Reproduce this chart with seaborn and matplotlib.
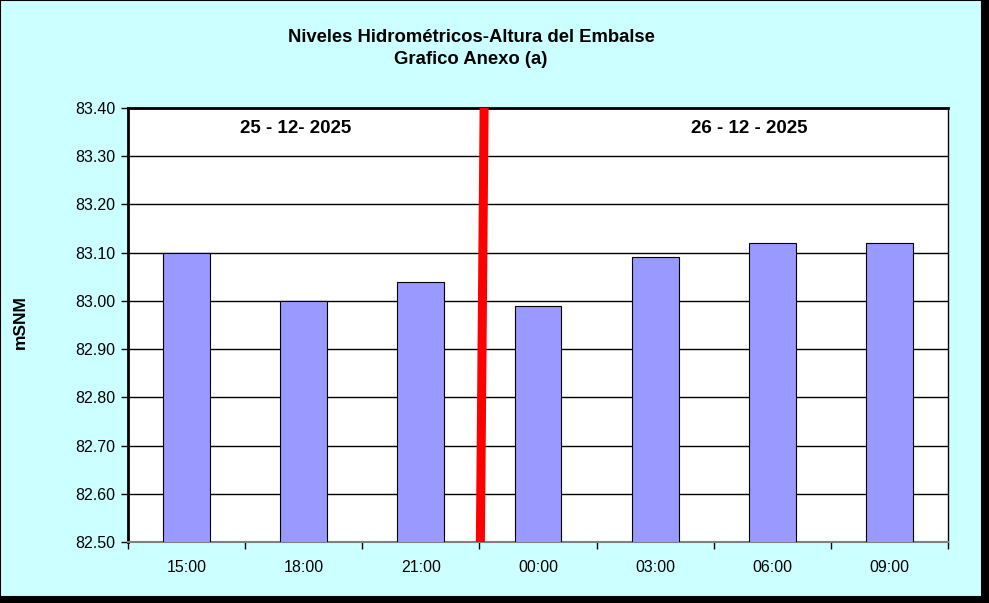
import matplotlib
matplotlib.use("Agg")
import matplotlib.pyplot as plt
import seaborn as sns
import pandas as pd
from matplotlib.patches import Rectangle
from matplotlib.ticker import FixedLocator, MultipleLocator

hours = ["15:00", "18:00", "21:00", "00:00", "03:00", "06:00", "09:00"]
levels = [83.10, 83.00, 83.04, 82.99, 83.09, 83.12, 83.12]
day_labels = ["25 - 12- 2025", "26 - 12 - 2025"]
separator_after = 2  # red line between 21:00 and 00:00

sns.set_theme(style="white")
plt.rcParams['font.family'] = ['Liberation Sans', 'DejaVu Sans']

fig = plt.figure(figsize=(9.89, 6.03), dpi=100)
W, H = 989, 603
fig.patch.set_facecolor('black')
# cyan background panel with dark shadow at right/bottom
fig.patches.append(Rectangle((0, 6/H), 982/W, 1 - 6/H, transform=fig.transFigure,
                             facecolor='#CCFFFF', edgecolor='black', linewidth=1.5, zorder=-10))

ax = fig.add_axes([128/W, 61/H, 820/W, 434/H])
df = pd.DataFrame({"hora": hours, "nivel": levels})
sns.barplot(data=df, x="hora", y="nivel", color="#9999FF", saturation=1,
            edgecolor="black", linewidth=0.8, width=0.4, ax=ax, zorder=3)

ax.set_facecolor('white')
ax.set_ylim(82.5, 83.4)
ax.set_xlim(-0.5, len(hours) - 0.5)
ax.yaxis.set_major_locator(MultipleLocator(0.1))
ax.yaxis.set_major_formatter(matplotlib.ticker.FormatStrFormatter('%.2f'))
ax.grid(axis='y', color='black', linewidth=1, zorder=0)
ax.set_axisbelow(True)

ax.tick_params(axis='y', which='major', left=True, length=5, width=1, color='black',
               labelsize=11.5, pad=4, direction='out')
ax.tick_params(axis='x', which='major', bottom=False, labelsize=11.5, pad=7)
ax.xaxis.set_minor_locator(FixedLocator([i - 0.5 for i in range(len(hours) + 1)]))
ax.tick_params(axis='x', which='minor', bottom=True, length=5, width=1, color='black',
               direction='out')
for lab in ax.get_xticklabels() + ax.get_yticklabels():
    lab.set_color('black')

ax.set_xlabel("")
ax.set_ylabel("")
fig.text(20/W, 1 - 322/H, "mSNM", rotation=90, ha='center', va='center',
         fontsize=12.5, fontweight='bold', color='black')

for s in ['top', 'left']:
    ax.spines[s].set_color('black')
    ax.spines[s].set_linewidth(2)
ax.spines['right'].set_color('black')
ax.spines['right'].set_linewidth(1)
ax.spines['bottom'].set_color('#808080')
ax.spines['bottom'].set_linewidth(1.5)

# red separator line (slightly slanted as in the original)
sep = separator_after + 0.5
ax.plot([sep + 0.008, sep + 0.04], [82.5, 83.4], color='red', linewidth=6.5,
        solid_capstyle='butt', zorder=5, clip_on=False)

ax.text(0.93, 83.358, day_labels[0], ha='center', va='center', fontsize=13.5,
        fontweight='bold', color='black')
ax.text(4.80, 83.358, day_labels[1], ha='center', va='center', fontsize=13.5,
        fontweight='bold', color='black')

fig.text(471/W, 1 - 38/H, "Niveles Hidrométricos-Altura del Embalse", ha='center',
         va='center', fontsize=13.3, fontweight='bold', color='black')
fig.text(471/W, 1 - 60/H, "Grafico Anexo (a)", ha='center', va='center',
         fontsize=13.3, fontweight='bold', color='black')

fig.savefig("out.png", dpi=100, facecolor=fig.get_facecolor())
